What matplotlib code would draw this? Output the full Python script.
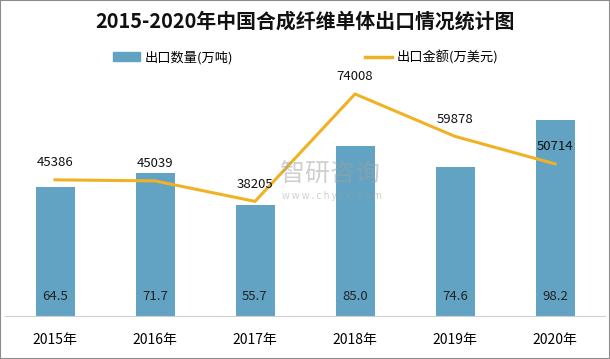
import matplotlib
matplotlib.use('Agg')
import matplotlib.pyplot as plt
from matplotlib.patches import Rectangle
from matplotlib.lines import Line2D

plt.rcParams['font.family'] = ['Noto Sans CJK SC', 'DejaVu Sans']

# data
years = ['2015年', '2016年', '2017年', '2018年', '2019年', '2020年']
export_volume = [64.5, 71.7, 55.7, 85.0, 74.6, 98.2]        # 万吨
export_value = [45386, 45039, 38205, 74008, 59878, 50714]   # 万美元

bar_color = '#62a3c3'
line_color = '#f0b224'

fig = plt.figure(figsize=(6.1, 3.59), dpi=100)
fig.patches.append(Rectangle((0, 0), 1, 1, transform=fig.transFigure,
                             fill=False, edgecolor='#8c8c8c', linewidth=1.5))

# axes spans x 5..605 px, y 76..316 px
ax = fig.add_axes([5 / 610, 43 / 359, 600 / 610, 240 / 359])
ax2 = ax.twinx()

x = list(range(len(years)))
ax.bar(x, export_volume, width=0.39, color=bar_color, zorder=2)
for xi, v in zip(x, export_volume):
    ax.annotate(f'{v:.1f}', (xi, 0), xytext=(0, 14), textcoords='offset points',
                ha='center', va='center', fontsize=9.5, color='#222222')

ax2.plot(x, export_value, color=line_color, linewidth=2.2, zorder=3)
for xi, v in zip(x, export_value):
    ax2.annotate(f'{v}', (xi, v), xytext=(0, 12.5), textcoords='offset points',
                 ha='center', va='center', fontsize=9.5, color='#111111')

ax.set_xlim(-0.5, len(years) - 0.5)
ax.set_ylim(0, 120)
ax2.set_ylim(0, 80000)

for a in (ax, ax2):
    for side in ('top', 'left', 'right'):
        a.spines[side].set_visible(False)
    a.set_yticks([])
ax.spines['bottom'].set_color('#d0d0d0')
ax2.spines['bottom'].set_visible(False)
ax.set_xticks(x)
ax.set_xticklabels(years, fontsize=10)
ax.tick_params(axis='x', length=0, pad=12)

# title
fig.text(0.5, 1 - 21 / 359, '2015-2020年中国合成纤维单体出口情况统计图',
         ha='center', va='center', fontsize=14.3, fontweight='bold', color='#111111')

# legend
handles = [Rectangle((0, 0), 1, 1, color=bar_color),
           Line2D([0], [0], color=line_color, linewidth=2.5)]
fig.legend(handles, ['出口数量(万吨)', '出口金额(万美元)'],
           loc='center', bbox_to_anchor=(306 / 610, 1 - 57 / 359), ncol=2,
           frameon=False, fontsize=9.5, columnspacing=10, handlelength=2.0,
           handleheight=0.6, handletextpad=0.4)

# watermark
fig.text(280 / 610, 1 - 174 / 359, '智研咨询', fontsize=18, color='#a0a0a0',
         alpha=0.5, va='center', ha='left')
fig.text(282 / 610, 1 - 196 / 359, 'w w w . c h y x x . c o m', fontsize=7,
         color='#a0a0a0', alpha=0.5, va='center', ha='left')

fig.savefig('out.png', dpi=100)
